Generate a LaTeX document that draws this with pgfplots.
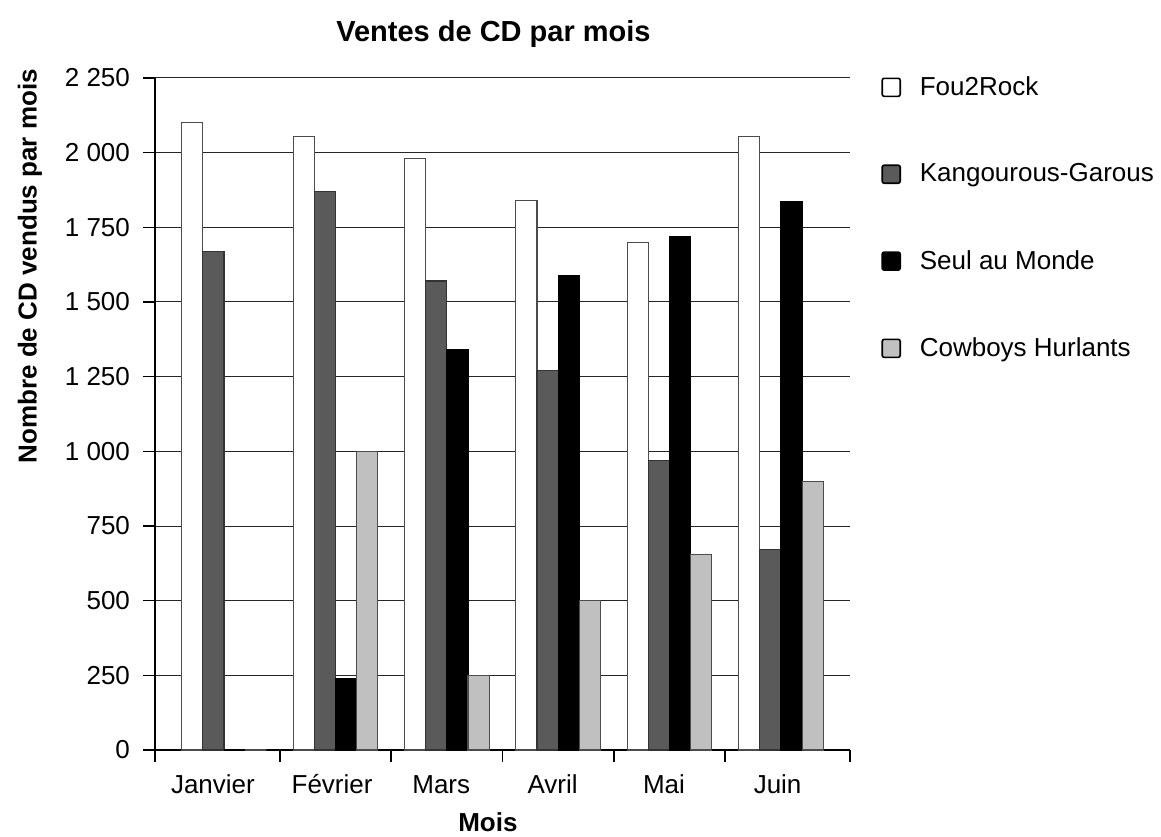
\documentclass[border=0pt]{standalone}
\usepackage{pgfplots}
\pgfplotsset{compat=1.18}
\usepackage{fontspec}
\setmainfont{Liberation Sans}

\definecolor{kgray}{RGB}{90,90,90}
\definecolor{cgray}{RGB}{192,192,192}

\begin{document}
\begin{tikzpicture}
\begin{axis}[
    at={(0,0)}, anchor=south west,
    width=347.5pt, height=336pt, scale only axis,
    ybar, bar width=0.19,
    xmin=-0.62, xmax=5.62,
    ymin=0, ymax=2250,
    axis x line*=bottom, axis y line*=left,
    axis line style={line width=1pt},
    ytick={0,250,...,2250},
    xtick={-0.62,0.5,1.5,2.5,3.5,4.5,5.62},
    xticklabels={},
    extra x ticks={-0.1,0.97,1.95,2.95,3.95,4.97},
    extra x tick labels={Janvier,Février,Mars,Avril,Mai,Juin},
    extra x tick style={major tick length=0pt,
        tick label style={yshift=-8pt, text height=10pt, text depth=3pt}},
    tick align=outside, major tick length=6pt,
    tick style={black, line width=0.8pt},
    ymajorgrids, grid style={black!85, line width=0.5pt},
    tick label style={font=\fontsize{13}{15}\selectfont},
    yticklabel style={xshift=-3pt},
    /pgf/number format/.cd, 1000 sep={\ }, assume math mode=true, /pgfplots/.cd,
    title={Ventes de CD par mois},
    title style={font=\bfseries\fontsize{14.5}{16}\selectfont, at={(axis description cs:0.487,1)}, anchor=base, yshift=12pt},
    xlabel={Mois},
    xlabel style={font=\bfseries\fontsize{13}{15}\selectfont, at={(axis description cs:0.479,0)}, anchor=center, yshift=-36pt},
    ylabel={Nombre de CD vendus par mois},
    ylabel style={font=\bfseries\fontsize{13}{15}\selectfont, at={(axis description cs:-0.18,0.72)}, anchor=center},
    legend image code/.code={\draw[#1, draw=black, line width=0.8pt, rounded corners=1pt] (0pt,-4.5pt) rectangle (9pt,4.5pt);
        \path (16.5pt,0pt);},
    legend style={at={(1,1)}, anchor=north west, xshift=15.5pt, yshift=3pt, draw=none, fill=none,
        font=\fontsize{13}{15}\selectfont, row sep=28.7pt, inner sep=0pt},
    legend cell align=left,
]
\addplot[fill=white, draw=black!70, line width=0.6pt, bar shift=-0.285]
    coordinates {(0,2100) (1,2055) (2,1980) (3,1840) (4,1700) (5,2055)};
\addlegendentry{Fou2Rock}
\addplot[fill=kgray, draw=black!80, line width=0.6pt, bar shift=-0.095]
    coordinates {(0,1670) (1,1870) (2,1570) (3,1270) (4,970) (5,670)};
\addlegendentry{Kangourous-Garous}
\addplot[fill=black, draw=black, line width=0.6pt, bar shift=0.095]
    coordinates {(0,0) (1,240) (2,1340) (3,1590) (4,1720) (5,1835)};
\addlegendentry{Seul au Monde}
\addplot[fill=cgray, draw=black!70, line width=0.6pt, bar shift=0.285]
    coordinates {(0,0) (1,1000) (2,250) (3,500) (4,655) (5,900)};
\addlegendentry{Cowboys Hurlants}
\end{axis}
\pgfresetboundingbox
\path (-77.5pt,-43pt) rectangle (503pt,375pt);
\end{tikzpicture}
\end{document}
